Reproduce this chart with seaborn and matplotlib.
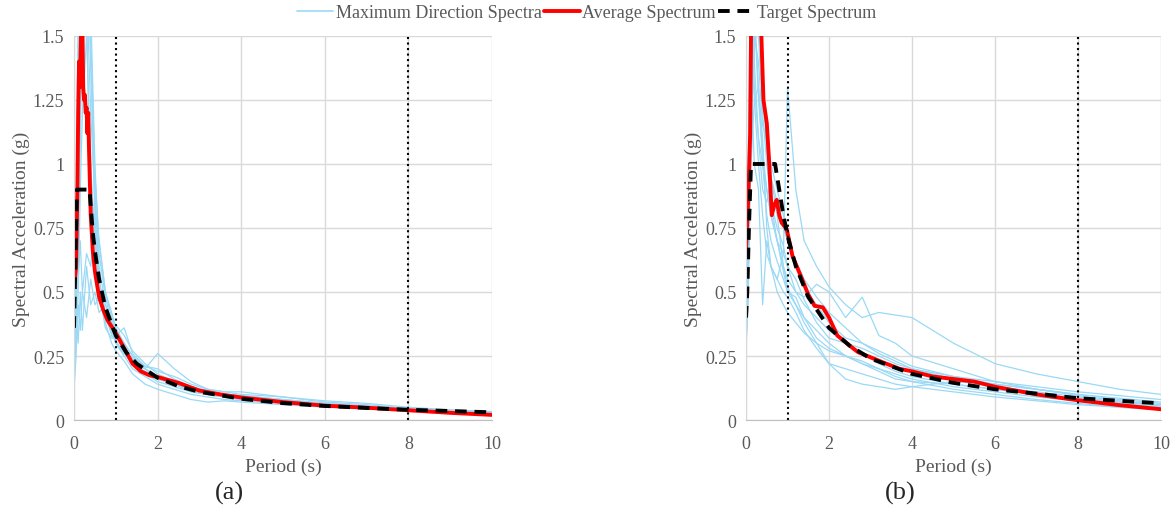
import pandas as pd
import seaborn as sns
import matplotlib.pyplot as plt
from matplotlib.lines import Line2D

# periods used for the individual records
periods = [0, 0.05, 0.1, 0.15, 0.2, 0.3, 0.4, 0.5, 0.6, 0.75, 0.9, 1.0, 1.2, 1.4,
           1.7, 2.0, 2.4, 2.8, 3.2, 3.6, 4.0, 5.0, 6.0, 7.0, 8.0, 9.0, 10.0]

# (a) maximum direction spectra of the records
records_a = [
    [0.13, 0.35, 0.7, 1.1, 1.6, 1.9, 1.4, 0.9, 0.6, 0.45, 0.38, 0.34, 0.28, 0.22, 0.18, 0.15, 0.13, 0.11, 0.10, 0.09, 0.085, 0.07, 0.055, 0.045, 0.038, 0.03, 0.025],
    [0.2, 0.45, 1.2, 1.8, 2.2, 1.5, 1.0, 0.7, 0.5, 0.4, 0.36, 0.3, 0.25, 0.2, 0.17, 0.14, 0.12, 0.1, 0.09, 0.08, 0.075, 0.065, 0.052, 0.045, 0.037, 0.03, 0.024],
    [0.3, 0.5, 0.9, 1.3, 1.55, 1.7, 1.2, 0.85, 0.55, 0.42, 0.33, 0.31, 0.26, 0.24, 0.2, 0.26, 0.2, 0.15, 0.12, 0.11, 0.1, 0.09, 0.07, 0.06, 0.045, 0.037, 0.03],
    [0.45, 0.6, 0.55, 0.7, 0.5, 0.65, 0.6, 0.8, 0.7, 0.5, 0.42, 0.36, 0.3, 0.22, 0.2, 0.17, 0.15, 0.12, 0.11, 0.1, 0.09, 0.075, 0.06, 0.05, 0.04, 0.033, 0.028],
    [0.25, 0.3, 0.45, 0.35, 0.5, 0.4, 0.55, 0.45, 0.48, 0.4, 0.35, 0.3, 0.26, 0.22, 0.19, 0.16, 0.14, 0.12, 0.1, 0.09, 0.08, 0.065, 0.053, 0.045, 0.04, 0.034, 0.03],
    [0.15, 0.4, 1.0, 1.5, 1.3, 1.2, 0.9, 0.75, 0.55, 0.38, 0.3, 0.27, 0.23, 0.18, 0.14, 0.12, 0.1, 0.08, 0.07, 0.075, 0.07, 0.06, 0.05, 0.044, 0.035, 0.028, 0.022],
    [0.35, 0.55, 1.3, 2.4, 2.6, 2.2, 1.4, 0.8, 0.5, 0.36, 0.32, 0.32, 0.3, 0.25, 0.2, 0.17, 0.14, 0.11, 0.1, 0.09, 0.085, 0.07, 0.06, 0.05, 0.04, 0.032, 0.026],
    [0.5, 0.7, 1.6, 1.9, 2.0, 1.6, 0.75, 0.6, 0.5, 0.4, 0.34, 0.33, 0.36, 0.26, 0.21, 0.2, 0.16, 0.13, 0.115, 0.1, 0.095, 0.08, 0.065, 0.055, 0.045, 0.036, 0.03],
    [0.12, 0.25, 0.5, 0.9, 1.2, 1.5, 1.6, 1.0, 0.65, 0.48, 0.38, 0.35, 0.3, 0.25, 0.21, 0.19, 0.17, 0.14, 0.12, 0.11, 0.11, 0.09, 0.075, 0.065, 0.05, 0.04, 0.033],
    [0.22, 0.4, 0.3, 0.5, 0.35, 0.6, 0.45, 0.5, 0.42, 0.45, 0.4, 0.37, 0.33, 0.27, 0.22, 0.18, 0.15, 0.13, 0.11, 0.1, 0.095, 0.08, 0.065, 0.055, 0.045, 0.038, 0.032],
    [0.3, 0.5, 0.8, 1.2, 1.7, 2.1, 1.5, 0.95, 0.7, 0.5, 0.4, 0.34, 0.28, 0.24, 0.2, 0.16, 0.14, 0.12, 0.105, 0.09, 0.08, 0.068, 0.055, 0.047, 0.04, 0.032, 0.027],
]

# (b) maximum direction spectra of the records
records_b = [
    [0.3, 0.5, 1.2, 1.8, 1.4, 1.1, 1.0, 0.9, 0.8, 0.7, 0.65, 0.6, 0.5, 0.45, 0.4, 0.35, 0.3, 0.28, 0.25, 0.22, 0.2, 0.16, 0.13, 0.11, 0.09, 0.07, 0.055],
    [0.4, 0.7, 1.0, 1.3, 1.5, 1.7, 1.3, 1.1, 0.95, 0.85, 0.75, 0.7, 0.6, 0.52, 0.45, 0.38, 0.32, 0.3, 0.27, 0.24, 0.21, 0.17, 0.14, 0.12, 0.1, 0.085, 0.07],
    [0.5, 0.8, 1.5, 1.9, 1.6, 1.3, 1.0, 0.8, 0.7, 0.62, 0.55, 0.5, 0.48, 0.4, 0.32, 0.28, 0.25, 0.22, 0.2, 0.17, 0.15, 0.12, 0.1, 0.08, 0.065, 0.05, 0.04],
    [0.28, 0.45, 0.9, 1.1, 1.25, 1.3, 1.1, 0.75, 0.6, 0.55, 0.65, 1.3, 0.9, 0.7, 0.6, 0.52, 0.45, 0.4, 0.42, 0.41, 0.4, 0.3, 0.22, 0.18, 0.15, 0.12, 0.1],
    [0.6, 0.9, 1.3, 1.2, 1.0, 0.9, 0.45, 0.7, 0.6, 0.55, 0.5, 0.48, 0.42, 0.35, 0.28, 0.22, 0.2, 0.18, 0.16, 0.14, 0.13, 0.11, 0.09, 0.075, 0.06, 0.05, 0.04],
    [0.35, 0.6, 1.1, 1.5, 1.7, 1.5, 1.2, 1.0, 0.85, 0.75, 0.68, 0.6, 0.55, 0.47, 0.38, 0.32, 0.3, 0.26, 0.22, 0.19, 0.17, 0.14, 0.12, 0.1, 0.08, 0.065, 0.05],
    [0.45, 0.75, 1.4, 1.6, 1.3, 1.1, 0.9, 0.85, 0.95, 0.8, 0.6, 0.52, 0.45, 0.4, 0.35, 0.3, 0.25, 0.22, 0.19, 0.16, 0.15, 0.14, 0.12, 0.1, 0.085, 0.07, 0.06],
    [0.55, 0.85, 1.2, 1.4, 1.6, 1.25, 1.05, 0.9, 0.8, 0.7, 0.58, 0.5, 0.45, 0.38, 0.3, 0.22, 0.16, 0.14, 0.13, 0.12, 0.13, 0.15, 0.14, 0.12, 0.1, 0.08, 0.065],
    [0.3, 0.55, 0.95, 1.25, 1.45, 1.6, 1.3, 1.05, 0.85, 0.7, 0.6, 0.55, 0.5, 0.48, 0.53, 0.5, 0.4, 0.48, 0.33, 0.3, 0.25, 0.2, 0.15, 0.12, 0.095, 0.075, 0.06],
    [0.7, 1.0, 1.6, 1.4, 1.25, 1.0, 0.8, 0.65, 0.6, 0.5, 0.45, 0.42, 0.38, 0.34, 0.3, 0.27, 0.25, 0.23, 0.2, 0.18, 0.16, 0.13, 0.11, 0.09, 0.075, 0.06, 0.05],
    [0.4, 0.65, 1.05, 1.35, 1.5, 1.4, 1.15, 1.1, 1.0, 0.9, 0.8, 0.7, 0.62, 0.55, 0.48, 0.42, 0.36, 0.3, 0.26, 0.23, 0.2, 0.17, 0.15, 0.13, 0.11, 0.095, 0.08],
]

# average spectra
avg_a_T = [0, 0.05, 0.08, 0.1, 0.12, 0.14, 0.16, 0.18, 0.2, 0.22, 0.24, 0.26, 0.28, 0.3, 0.32, 0.34, 0.36,
           0.4, 0.45, 0.5, 0.6, 0.7, 0.8, 1.0, 1.2, 1.4, 1.6, 1.8, 2.0, 2.5, 3.0, 3.5, 4.0, 5.0, 6.0, 7.0, 8.0, 9.0, 10.0]
avg_a = [0.52, 0.6, 0.9, 1.2, 1.4, 1.3, 1.45, 1.6, 1.55, 1.3, 1.25, 1.27, 1.2, 1.22, 1.12, 1.2, 1.05,
         0.8, 0.66, 0.58, 0.48, 0.43, 0.39, 0.34, 0.28, 0.22, 0.19, 0.175, 0.168, 0.145, 0.115, 0.1, 0.088, 0.07, 0.056, 0.048, 0.038, 0.028, 0.02]

avg_b_T = [0, 0.05, 0.1, 0.12, 0.2, 0.3, 0.37, 0.42, 0.5, 0.56, 0.62, 0.68, 0.74, 0.8, 0.86, 0.98, 1.12,
           1.3, 1.5, 1.65, 1.85, 2.0, 2.2, 2.5, 2.7, 3.0, 3.3, 3.7, 4.0, 4.5, 5.0, 5.5, 6.0, 7.0, 8.0, 9.0, 10.0]
avg_b = [0.67, 0.85, 1.12, 1.5, 1.8, 1.7, 1.5, 1.25, 1.16, 1.0, 0.8, 0.84, 0.86, 0.8, 0.77, 0.746, 0.64,
         0.57, 0.49, 0.446, 0.44, 0.4, 0.33, 0.29, 0.265, 0.245, 0.225, 0.2, 0.19, 0.17, 0.16, 0.15, 0.13, 0.1, 0.077, 0.058, 0.042]

# target spectra
tgt_a_T = [0, 0.03, 0.07, 0.37, 0.45, 0.5, 0.6, 0.75, 1, 1.25, 1.5, 2, 2.5, 3, 4, 5, 6, 7, 8, 9, 10]
tgt_a = [0.36, 0.6, 0.9, 0.9, 0.73, 0.66, 0.55, 0.44, 0.33, 0.264, 0.22, 0.165, 0.132, 0.11, 0.083, 0.066, 0.055, 0.047, 0.04, 0.035, 0.03]

tgt_b_T = [0, 0.03, 0.07, 0.12, 0.7, 0.8, 0.9, 1.0, 1.2, 1.5, 2, 2.5, 3, 4, 5, 6, 7, 8, 9, 10]
tgt_b = [0.4, 0.5, 0.75, 1.0, 1.0, 0.9, 0.8, 0.72, 0.6, 0.48, 0.36, 0.29, 0.24, 0.18, 0.145, 0.12, 0.103, 0.085, 0.075, 0.065]

limits = [1, 8]
yticks = [0, 0.25, 0.5, 0.75, 1, 1.25, 1.5]
ytick_labels = ["0", "0.25", "0.5", "0.75", "1", "1.25", "1.5"]
xticks = [0, 2, 4, 6, 8, 10]

sns.set_style("whitegrid")
plt.rcParams["font.family"] = ["Liberation Serif", "DejaVu Serif"]

light_blue = "#9ad9f5"
gray = "#595959"

fig = plt.figure(figsize=(11.73, 5.10), dpi=100)
ax_a = fig.add_axes([0.0631, 0.1745, 0.3563, 0.753])
ax_b = fig.add_axes([0.636, 0.1745, 0.3538, 0.753])


def draw_panel(ax, records, avg_T, avg, tgt_T, tgt):
    rows = []
    for i, rec in enumerate(records):
        for t, v in zip(periods, rec):
            rows.append({"rec": i, "T": t, "Sa": v})
    df = pd.DataFrame(rows)
    sns.lineplot(data=df, x="T", y="Sa", units="rec", estimator=None,
                 color=light_blue, lw=0.9, ax=ax, legend=False)
    sns.lineplot(x=avg_T, y=avg, color="red", lw=2.8, ax=ax, sort=False)
    sns.lineplot(x=tgt_T, y=tgt, color="black", lw=2.8, ax=ax, sort=False,
                 dashes=False, linestyle=(0, (3, 2)))
    for x in limits:
        ax.axvline(x, color="black", ls=":", lw=1.5)
    ax.set_xlim(0, 10)
    ax.set_ylim(0, 1.5)
    ax.set_xticks(xticks)
    ax.set_yticks(yticks)
    ax.set_yticklabels(ytick_labels)
    ax.grid(color="#d9d9d9", lw=1)
    ax.tick_params(colors=gray, labelsize=13, length=0)
    ax.tick_params(axis="x", pad=11)
    ax.tick_params(axis="y", pad=7)
    for s in ["top", "right"]:
        ax.spines[s].set_visible(False)
    ax.spines["left"].set_color("#d9d9d9")
    ax.spines["bottom"].set_color("#bfbfbf")
    ax.set_xlabel("Period (s)", color=gray, fontsize=14, labelpad=4)
    ax.set_ylabel("Spectral Acceleration (g)", color=gray, fontsize=14, labelpad=2)


draw_panel(ax_a, records_a, avg_a_T, avg_a, tgt_a_T, tgt_a)
draw_panel(ax_b, records_b, avg_b_T, avg_b, tgt_b_T, tgt_b)

fig.text(229 / 1173, 1 - 493 / 510, "(a)", ha="center", va="center", fontsize=19)
fig.text(900 / 1173, 1 - 493 / 510, "(b)", ha="center", va="center", fontsize=19)

handles = [
    Line2D([], [], color=light_blue, lw=1.2),
    Line2D([], [], color="red", lw=2.8),
    Line2D([], [], color="black", lw=2.8, linestyle=(0, (3, 2))),
]
labels = ["Maximum Direction Spectra", "Average Spectrum", "Target Spectrum"]
leg = fig.legend(handles, labels, loc="center", bbox_to_anchor=(0.5, 1 - 14 / 510),
                 ncol=3, frameon=False, fontsize=13, handlelength=2.0,
                 handletextpad=0.15, columnspacing=0.1)
for t in leg.get_texts():
    t.set_color(gray)

plt.savefig("out.png", dpi=100)
